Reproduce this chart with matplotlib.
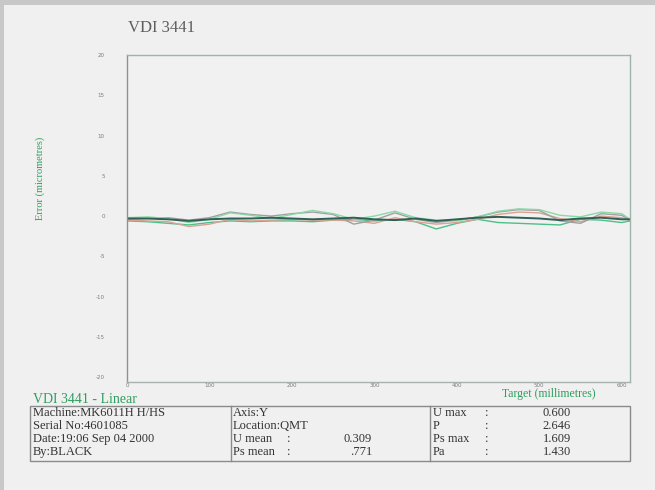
import matplotlib
matplotlib.use("Agg")
import matplotlib.pyplot as plt
from matplotlib.patches import Rectangle
from matplotlib.lines import Line2D

# target positions (millimetres)
target = [0, 25, 50, 75, 100, 125, 150, 175, 200, 225, 250, 275, 300,
          325, 350, 375, 400, 425, 450, 475, 500, 525, 550, 575, 600, 610]

# error runs (micrometres)
err_mean = [-0.3, -0.3, -0.4, -0.6, -0.4, -0.3, -0.3, -0.2, -0.3, -0.4, -0.3, -0.2, -0.4,
            -0.5, -0.3, -0.6, -0.4, -0.2, -0.1, -0.2, -0.3, -0.5, -0.3, -0.2, -0.4, -0.4]
err_run1 = [-0.2, -0.1, -0.3, -0.8, -0.4, 0.4, 0.1, -0.3, 0.2, 0.7, 0.3, -0.4, 0.0,
            0.6, -0.2, -0.5, -0.6, -0.1, 0.6, 0.9, 0.8, 0.1, -0.1, 0.5, 0.3, -0.4]
err_run2 = [-0.5, -0.6, -0.7, -1.3, -1.0, -0.4, -0.6, -0.5, -0.4, -0.5, -0.5, -0.6, -0.9,
            -0.2, -0.7, -1.0, -0.8, -0.4, 0.2, 0.5, 0.4, -0.3, -0.7, 0.0, -0.2, -0.5]
err_run3 = [-0.4, -0.3, -0.2, -0.5, -0.2, 0.5, 0.2, 0.0, 0.3, 0.5, 0.2, -1.0, -0.5,
            0.4, -0.4, -0.8, -0.5, -0.1, 0.5, 0.8, 0.7, -0.6, -0.9, 0.3, 0.1, -0.5]
err_run4 = [-0.6, -0.7, -0.9, -1.1, -0.8, -0.6, -0.7, -0.6, -0.6, -0.7, -0.5, -0.4, -0.6,
            -0.4, -0.7, -1.6, -0.9, -0.4, -0.8, -0.9, -1.0, -1.1, -0.4, -0.5, -0.8, -0.6]

x_ticks = [0, 100, 200, 300, 400, 500, 600]
y_ticks = [-20, -15, -10, -5, 0, 5, 10, 15, 20]

col1 = ["Machine:MK6011H H/HS", "Serial No:4601085", "Date:19:06 Sep 04 2000", "By:BLACK"]
col2_labels = ["Axis:Y", "Location:QMT", "U mean", "Ps mean"]
col2_values = ["", "", "0.309", ".771"]
col3_labels = ["U max", "P", "Ps max", "Pa"]
col3_values = ["0.600", "2.646", "1.609", "1.430"]

W, H = 655, 490
bg = "#f0f0f0"
green = "#2e9e5e"
serif = ["Liberation Serif", "DejaVu Serif"]

fig = plt.figure(figsize=(W / 100, H / 100), dpi=100)
fig.patch.set_facecolor(bg)

# grey frame of the screenshot
fig.add_artist(Rectangle((0, 1 - 5 / H), 1, 5 / H, transform=fig.transFigure,
                         facecolor="#c8c8c8", edgecolor="none"))
fig.add_artist(Rectangle((0, 0), 4 / W, 1, transform=fig.transFigure,
                         facecolor="#c8c8c8", edgecolor="none"))


def fx(px):
    return px / W


def fy(py):
    return 1 - py / H


ax = fig.add_axes([fx(127), fy(382), (630 - 127) / W, (382 - 55) / H])
ax.set_facecolor("#f2f1f1")

ax.plot(target, err_run4, color="#4cc08a", lw=1.0)
ax.plot(target, err_run2, color="#d8a392", lw=1.0)
ax.plot(target, err_run3, color="#a0a0a0", lw=1.0)
ax.plot(target, err_run1, color="#8ad8a8", lw=1.0)
ax.plot(target, err_mean, color="#2f5f55", lw=1.4)

ax.set_xlim(0, 610)
ax.set_ylim(-20.6, 19.6)
ax.set_xticks(x_ticks)
ax.set_yticks(y_ticks)
ax.set_xticklabels([str(v) for v in x_ticks])
ax.set_yticklabels([str(v) for v in y_ticks])
ax.tick_params(length=0, labelsize=4, colors="#7a7a7a")
ax.tick_params(axis="y", pad=16)
ax.tick_params(axis="x", pad=1)
for name, sp in ax.spines.items():
    sp.set_color("#9fb3ad")
    sp.set_linewidth(1.0)
ax.spines["left"].set_color("#8a9590")
ax.spines["bottom"].set_color("#a9b0ae")

fig.text(fx(128), fy(28), "VDI 3441", fontsize=12, color="#5e5e5e",
         family=serif, va="center", ha="left")
fig.text(fx(40), fy(178), "Error (micrometres)", rotation=90, fontsize=7.5,
         color=green, family=serif, va="center", ha="center")
fig.text(fx(549), fy(394), "Target (millimetres)", fontsize=8.5, color=green,
         family=serif, va="center", ha="center")

# info block
fig.text(fx(33), fy(399), "VDI 3441 - Linear", fontsize=10, color=green,
         family=serif, va="center", ha="left")

box_l, box_r, box_t, box_b = 30, 630, 406, 461
fig.add_artist(Rectangle((fx(box_l), fy(box_b)), (box_r - box_l) / W, (box_b - box_t) / H,
                         transform=fig.transFigure, facecolor="none",
                         edgecolor="#8a8a8a", lw=1.0))
for vx in (231, 430):
    fig.add_artist(Line2D([fx(vx), fx(vx)], [fy(box_t), fy(box_b)],
                          transform=fig.transFigure, color="#8a8a8a", lw=1.0))

rows = [413, 426, 439, 452]
txt = dict(fontsize=9, color="#333333", family=serif, va="center")
for i, py in enumerate(rows):
    fig.text(fx(33), fy(py), col1[i], ha="left", **txt)
    fig.text(fx(233), fy(py), col2_labels[i], ha="left", **txt)
    if col2_values[i]:
        fig.text(fx(287), fy(py), ":", ha="left", **txt)
        fig.text(fx(372), fy(py), col2_values[i], ha="right", **txt)
    fig.text(fx(433), fy(py), col3_labels[i], ha="left", **txt)
    fig.text(fx(485), fy(py), ":", ha="left", **txt)
    fig.text(fx(571), fy(py), col3_values[i], ha="right", **txt)

fig.savefig("out.png", dpi=100, facecolor=fig.get_facecolor())
